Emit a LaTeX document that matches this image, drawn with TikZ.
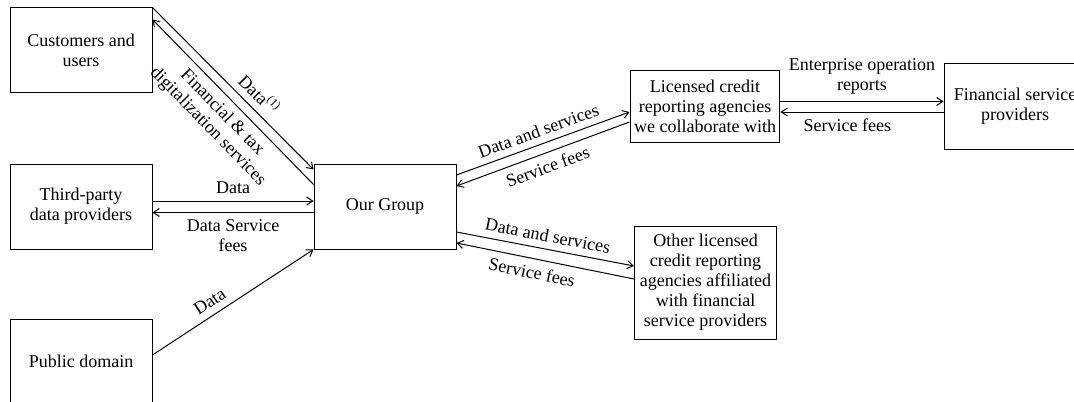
\documentclass[tikz,border=0pt]{standalone}
\usepackage{fontspec}
\setmainfont{Liberation Serif}
\usetikzlibrary{arrows.meta,calc}
\begin{document}
\begin{tikzpicture}[x=0.5pt,y=-0.5pt,line width=0.5pt,
        >={Straight Barb[length=3pt,width=4pt]},
        font=\fontsize{9}{10}\selectfont,
        party/.style={draw,align=center,minimum width=71pt,minimum height=42.5pt,inner sep=2pt}]
      \useasboundingbox (0,0) rectangle (1074,401);
      \clip (0,0) rectangle (1074,401);
      \node[party] (cust)   at (81,50.5)    {Customers and\\users};
      \node[party] (third)  at (81,206.5)   {Third-party\\data providers};
      \node[party] (public) at (81,361.5)   {Public domain};
      \node[party] (group)  at (385,206.5)  {Our Group};
      \node[party,minimum height=36pt] (lic) at (705,106.5)
           {Licensed credit\\reporting agencies\\we collaborate with};
      \node[party] (fin)    at (1015,106.5) {Financial service\\providers};
      \node[party,minimum height=56.5pt] (other) at (705.5,282.5)
           {Other licensed\\credit reporting\\agencies affiliated\\with financial\\service providers};
           \path[every node/.style={sloped,align=center}]
           (cust.north east) edge [->] node [above,pos=0.6] {Data\textsuperscript{(1)}} ($(group.north west)+(0,6)$)
           ($(group.north west)+(0,21)$) edge [->] node [below] {Financial \& tax\\digitalization services} ($(cust.north east)+(0,12)$)
           ($(third.east)+(0,-5.5)$) edge [->] node [above] {Data} ($(group.west)+(0,-5.5)$)
           ($(group.west)+(0,6)$) edge [->] node [below] {Data Service\\fees} ($(third.east)+(0,6)$)
           ($(public.east)+(0,-6.5)$) edge [->] node [above,pos=0.4] {Data} (group.south west)
           ($(group.east)+(0,-31.5)$) edge [->] node [above] {Data and services} ($(lic.west)+(0,5.5)$)
           ($(lic.west)+(0,15.5)$) edge [->] node [below] {Service fees} ($(group.east)+(0,-20.5)$)
           ($(group.east)+(0,25.5)$) edge [->] node [above] {Data and services} ($(other.west)+(0,-16.5)$)
           ($(other.west)+(0,-3.5)$) edge [->] node [below,pos=0.56] {Service fees} ($(group.east)+(0,36.5)$)
           ($(lic.east)+(0,-5)$) edge [->] node [above] {Enterprise operation\\reports} ($(fin.west)+(0,-5)$)
           ($(fin.west)+(0,5.5)$) edge [->] node [below,pos=0.59] {Service fees} ($(lic.east)+(0,5.5)$);
    \end{tikzpicture}
\end{document}
